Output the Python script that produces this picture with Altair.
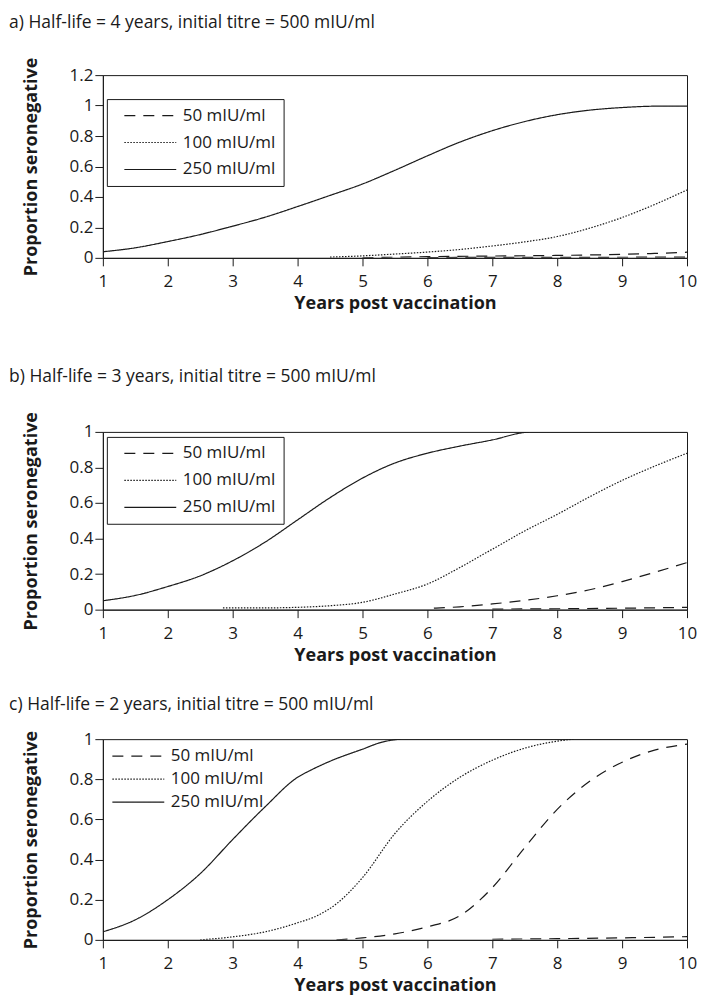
import altair as alt
import pandas as pd

SERIES = ["50 mIU/ml", "100 mIU/ml", "250 mIU/ml"]
TITLES = [
    "a) Half-life = 4 years, initial titre = 500 mIU/ml",
    "b) Half-life = 3 years, initial titre = 500 mIU/ml",
    "c) Half-life = 2 years, initial titre = 500 mIU/ml",
]
X_TICKS = [1, 2, 3, 4, 5, 6, 7, 8, 9, 10]
Y_TICKS_A = [0, 0.2, 0.4, 0.6, 0.8, 1.0, 1.2]
Y_TICKS_BC = [0, 0.2, 0.4, 0.6, 0.8, 1.0]

# Panel a (half-life 4 years)
A250_X = [1, 1.5, 2, 2.5, 3, 3.5, 4, 4.5, 5, 5.5, 6, 6.5, 7, 7.5, 8, 8.5, 9, 9.5, 10]
A250_Y = [0.04, 0.066, 0.107, 0.153, 0.208, 0.267, 0.337, 0.41, 0.485, 0.575, 0.67, 0.76, 0.835, 0.895, 0.94, 0.97, 0.987, 0.996, 0.997]
A100_X = [4.5, 5, 5.5, 6, 6.5, 7, 7.5, 8, 8.5, 9, 9.5, 10]
A100_Y = [0.005, 0.013, 0.025, 0.038, 0.055, 0.078, 0.105, 0.14, 0.195, 0.265, 0.35, 0.446]
A50_X = [5, 6, 7, 8, 9, 9.5, 10]
A50_Y = [0.0, 0.008, 0.012, 0.016, 0.023, 0.029, 0.037]
A50B_X = [6, 7, 8, 9, 10]
A50B_Y = [0.002, 0.003, 0.003, 0.004, 0.005]

# Panel b (half-life 3 years)
B250_X = [1, 1.5, 2, 2.5, 3, 3.5, 4, 4.5, 5, 5.5, 6, 6.5, 7, 7.5, 7.6, 10]
B250_Y = [0.05, 0.08, 0.13, 0.19, 0.275, 0.38, 0.505, 0.63, 0.74, 0.825, 0.88, 0.92, 0.955, 0.997, 1.0, 1.0]
B100_X = [2.85, 3, 3.5, 4, 4.5, 5, 5.5, 6, 6.5, 7, 7.5, 8, 8.5, 9, 9.5, 10]
B100_Y = [0.01, 0.01, 0.01, 0.013, 0.022, 0.041, 0.088, 0.144, 0.237, 0.34, 0.443, 0.536, 0.635, 0.727, 0.807, 0.88]
B50_X = [6.1, 6.5, 7, 7.5, 8, 8.5, 9, 9.5, 10]
B50_Y = [0.008, 0.016, 0.032, 0.052, 0.078, 0.112, 0.158, 0.21, 0.265]
B50B_X = [7, 8, 9, 10]
B50B_Y = [0.003, 0.005, 0.008, 0.013]

# Panel c (half-life 2 years)
C250_X = [1, 1.5, 2, 2.5, 3, 3.5, 4, 4.2, 4.5, 5, 5.3, 5.65, 10]
C250_Y = [0.04, 0.1, 0.2, 0.33, 0.5, 0.663, 0.81, 0.845, 0.89, 0.95, 0.985, 1.0, 1.0]
C100_X = [2.5, 3, 3.5, 4, 4.3, 4.6, 5, 5.5, 6, 6.5, 7, 7.5, 8, 8.25]
C100_Y = [0.0, 0.015, 0.04, 0.085, 0.12, 0.18, 0.31, 0.53, 0.69, 0.81, 0.895, 0.955, 0.99, 1.0]
C50_X = [4.6, 5, 5.5, 6, 6.5, 7, 7.5, 8, 8.5, 9, 9.5, 10]
C50_Y = [0.0, 0.01, 0.03, 0.065, 0.12, 0.26, 0.46, 0.65, 0.79, 0.885, 0.945, 0.975]
C50B_X = [7, 8, 9, 10]
C50B_Y = [0.003, 0.006, 0.01, 0.016]

FONT = "Open Sans"
INK = "#1a1a1a"


def frame(parts):
    rows = []
    for series, line, xs, ys in parts:
        for x, y in zip(xs, ys):
            rows.append({"series": series, "line": line, "x": x, "y": y})
    return pd.DataFrame(rows)


def panel(df, title, height, yticks, ymax, legend, title_offset):
    return (
        alt.Chart(df)
        .mark_line(color=INK, strokeWidth=1.2, interpolate="monotone", clip=True)
        .encode(
            x=alt.X(
                "x:Q",
                scale=alt.Scale(domain=[1, 10], nice=False, zero=False),
                axis=alt.Axis(values=X_TICKS, title="Years post vaccination", format="d"),
            ),
            y=alt.Y(
                "y:Q",
                scale=alt.Scale(domain=[0, ymax], nice=False),
                axis=alt.Axis(values=yticks, title="Proportion seronegative", format=".1~f"),
            ),
            strokeDash=alt.StrokeDash(
                "series:N",
                scale=alt.Scale(domain=SERIES, range=[[11, 8], [1.5, 1.5], [1, 0]]),
                legend=legend,
                title=None,
            ),
            detail="line:N",
        )
        .properties(
            width=585,
            height=height,
            title=alt.TitleParams(
                title,
                anchor="start",
                frame="bounds",
                dx=-13,
                offset=title_offset,
                fontSize=17.5,
                fontWeight="normal",
                font=FONT,
                color=INK,
            ),
        )
    )


boxed_legend = dict(
    orient="none",
    legendX=4,
    legendY=24,
    strokeColor=INK,
    fillColor="white",
    padding=8,
    symbolType="M-5,0H5",
    symbolSize=108,
    symbolOffset=27,
    symbolStrokeColor=INK,
    symbolStrokeWidth=1.2,
    labelFontSize=17,
    labelFont=FONT,
    labelColor=INK,
    labelOffset=24,
    rowPadding=9,
)

df_a = frame([
    ("250 mIU/ml", "a250", A250_X, A250_Y),
    ("100 mIU/ml", "a100", A100_X, A100_Y),
    ("50 mIU/ml", "a50", A50_X, A50_Y),
    ("50 mIU/ml", "a50b", A50B_X, A50B_Y),
])
df_b = frame([
    ("250 mIU/ml", "b250", B250_X, B250_Y),
    ("100 mIU/ml", "b100", B100_X, B100_Y),
    ("50 mIU/ml", "b50", B50_X, B50_Y),
    ("50 mIU/ml", "b50b", B50B_X, B50B_Y),
])
df_c = frame([
    ("250 mIU/ml", "c250", C250_X, C250_Y),
    ("100 mIU/ml", "c100", C100_X, C100_Y),
    ("50 mIU/ml", "c50", C50_X, C50_Y),
    ("50 mIU/ml", "c50b", C50B_X, C50B_Y),
])

leg_a = alt.Legend(**boxed_legend)
leg_b = alt.Legend(**{**boxed_legend, "legendY": 5})
leg_c = alt.Legend(**{**boxed_legend, "strokeColor": "transparent", "fillColor": "transparent",
                      "legendX": 0, "legendY": 8.5, "padding": 0, "rowPadding": 5})

pa = panel(df_a, TITLES[0], 183, Y_TICKS_A, 1.2, leg_a, 25.8)
pb = panel(df_b, TITLES[1], 178, Y_TICKS_BC, 1.0, leg_b, 25.7)
pc = panel(df_c, TITLES[2], 201, Y_TICKS_BC, 1.0, leg_c, 16.5)

lower = alt.vconcat(pb, pc, spacing=30.7).resolve_scale(strokeDash="independent")

chart = (
    alt.vconcat(pa, lower, spacing=54.3)
    .resolve_scale(strokeDash="independent")
    .properties(padding={"left": 0, "top": 4.5, "right": 0, "bottom": 0})
    .configure_view(stroke=INK, strokeWidth=1)
    .configure_axis(
        grid=False,
        domainColor=INK,
        tickColor=INK,
        tickSize=8,
        tickWidth=1,
        labelFont=FONT,
        labelFontSize=17,
        labelColor=INK,
        titleFont=FONT,
        titleFontSize=18,
        titleFontWeight="bold",
        titleColor=INK,
    )
    .configure_axisY(labelPadding=2, titlePadding=29)
    .configure_axisX(labelPadding=7.5, titlePadding=5, labelFlush=False)
)

chart.save("out.html", embed_options={"renderer": "svg", "actions": False})
